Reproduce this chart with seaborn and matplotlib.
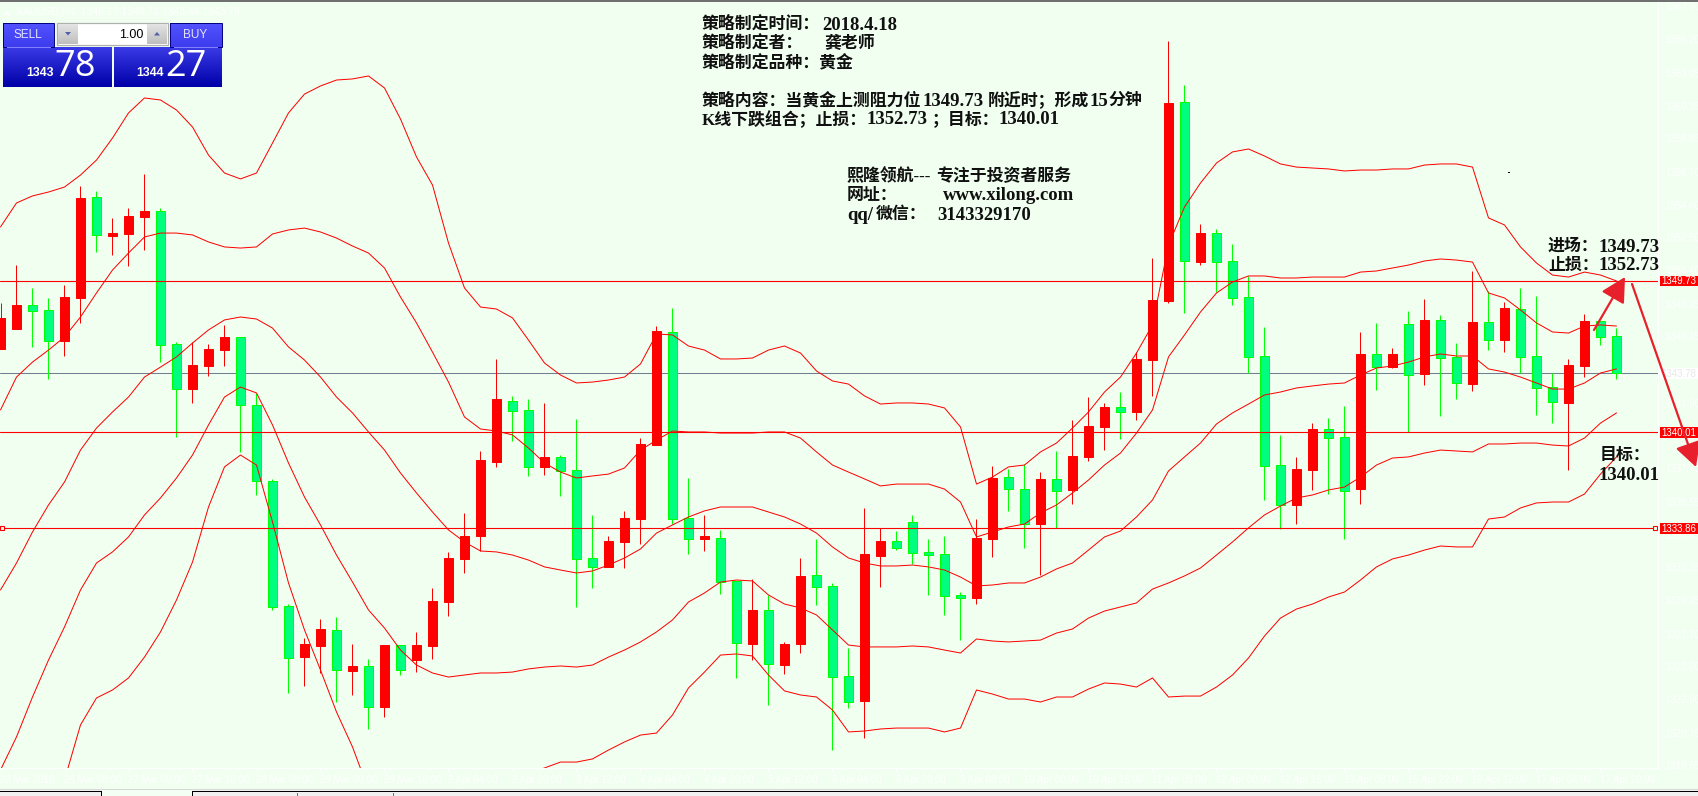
import matplotlib
matplotlib.use('Agg')
import matplotlib.pyplot as plt
from matplotlib.patches import Rectangle
import numpy as np
import seaborn as sns

# XAUUSD H4 candles, one value per bar
opens = [1345.35, 1346.63, 1348.17, 1347.85, 1345.86, 1348.62, 1355.09, 1352.59, 1352.72, 1353.81,
         1354.19, 1345.67, 1342.78, 1344.26, 1345.28, 1346.12, 1341.76, 1336.89, 1328.88, 1325.60,
         1326.31, 1327.34, 1324.71, 1325.03, 1322.40, 1326.37, 1325.41, 1326.31, 1329.13, 1331.89,
         1333.36, 1338.11, 1342.02, 1341.44, 1337.79, 1338.43, 1337.59, 1331.95, 1331.38, 1332.98,
         1334.45, 1339.19, 1346.44, 1334.52, 1333.17, 1333.23, 1330.48, 1326.44, 1328.62, 1325.09,
         1326.44, 1330.86, 1330.16, 1324.38, 1322.79, 1332.08, 1333.04, 1334.26, 1332.34, 1332.21,
         1329.58, 1329.39, 1333.17, 1337.14, 1336.37, 1334.13, 1337.02, 1336.30, 1338.43, 1340.35,
         1341.63, 1341.31, 1344.64, 1348.43, 1361.18, 1350.92, 1352.78, 1350.99, 1348.68, 1344.90,
         1337.91, 1335.35, 1337.59, 1340.22, 1339.71, 1336.37, 1345.03, 1344.19, 1346.95, 1343.74,
         1347.21, 1344.84, 1343.10, 1347.08, 1345.92, 1347.91, 1344.90, 1342.91, 1341.89, 1344.26,
         1347.14, 1346.19]
highs = [1348.30, 1350.73, 1349.26, 1348.62, 1349.45, 1355.80, 1355.48, 1353.75, 1354.39, 1356.57,
         1354.39, 1345.80, 1345.80, 1345.67, 1346.89, 1346.12, 1342.53, 1337.02, 1329.00, 1326.82,
         1328.04, 1328.17, 1326.44, 1325.48, 1326.37, 1326.37, 1327.21, 1330.03, 1332.34, 1334.84,
         1338.81, 1344.71, 1342.34, 1342.14, 1341.89, 1338.55, 1340.86, 1334.71, 1333.36, 1334.97,
         1339.64, 1346.82, 1347.98, 1337.08, 1334.71, 1333.75, 1330.48, 1330.60, 1329.58, 1326.56,
         1331.95, 1333.17, 1330.35, 1326.18, 1335.16, 1333.88, 1333.68, 1334.71, 1333.17, 1333.36,
         1329.77, 1334.45, 1337.85, 1337.66, 1337.98, 1337.46, 1338.81, 1340.80, 1342.27, 1341.89,
         1342.59, 1345.15, 1351.18, 1365.09, 1362.27, 1353.36, 1353.04, 1352.08, 1350.03, 1346.76,
         1339.84, 1338.43, 1340.60, 1340.92, 1341.69, 1346.44, 1347.02, 1345.41, 1347.78, 1348.55,
         1347.53, 1345.73, 1350.35, 1349.06, 1348.36, 1349.26, 1348.75, 1343.81, 1344.71, 1347.59,
         1347.14, 1346.71]
lows = [1345.35, 1346.63, 1345.48, 1343.42, 1344.90, 1347.02, 1351.57, 1351.37, 1350.67, 1351.69,
        1344.51, 1339.71, 1341.89, 1343.62, 1344.26, 1338.75, 1335.99, 1328.62, 1323.30, 1323.74,
        1324.58, 1322.72, 1323.17, 1321.00, 1321.76, 1324.45, 1324.64, 1325.48, 1328.23, 1330.99,
        1332.40, 1337.79, 1339.45, 1337.21, 1337.28, 1335.93, 1328.81, 1330.03, 1331.38, 1331.31,
        1332.85, 1339.19, 1334.13, 1332.21, 1332.40, 1329.64, 1324.26, 1325.41, 1322.53, 1324.51,
        1325.86, 1328.94, 1319.64, 1322.34, 1320.42, 1330.09, 1332.46, 1331.57, 1329.58, 1328.30,
        1326.69, 1329.00, 1332.02, 1334.97, 1332.59, 1330.86, 1333.88, 1335.41, 1338.17, 1338.87,
        1339.58, 1340.80, 1342.34, 1348.30, 1347.66, 1350.73, 1349.00, 1348.17, 1343.81, 1335.67,
        1333.81, 1334.13, 1336.30, 1336.05, 1333.17, 1335.41, 1342.72, 1344.13, 1340.03, 1343.04,
        1341.05, 1342.14, 1342.65, 1345.28, 1345.15, 1343.81, 1341.12, 1340.60, 1337.59, 1343.55,
        1345.60, 1343.44]
closes = [1347.34, 1348.17, 1347.78, 1345.86, 1348.68, 1355.03, 1352.66, 1352.78, 1353.87, 1354.19,
          1345.60, 1342.78, 1344.32, 1345.35, 1346.12, 1341.76, 1336.89, 1328.81, 1325.54, 1326.44,
          1327.40, 1324.77, 1325.03, 1322.40, 1326.37, 1324.77, 1326.37, 1329.19, 1331.95, 1333.36,
          1338.23, 1342.14, 1341.37, 1337.79, 1338.43, 1337.53, 1331.89, 1331.38, 1333.04, 1334.52,
          1339.26, 1346.50, 1334.45, 1333.17, 1333.36, 1330.41, 1326.50, 1328.62, 1325.16, 1326.44,
          1330.80, 1330.09, 1324.32, 1322.72, 1332.21, 1333.04, 1332.59, 1332.27, 1332.14, 1329.52,
          1329.39, 1333.23, 1337.08, 1336.37, 1334.13, 1337.02, 1336.24, 1338.49, 1340.41, 1341.63,
          1341.31, 1344.71, 1348.49, 1361.12, 1350.99, 1352.78, 1350.92, 1348.62, 1344.84, 1337.85,
          1335.35, 1337.66, 1340.22, 1339.64, 1336.24, 1345.03, 1344.19, 1345.03, 1343.68, 1347.21,
          1344.77, 1343.17, 1347.08, 1345.92, 1347.98, 1344.84, 1342.85, 1341.95, 1344.32, 1347.14,
          1346.12, 1343.78]

# the five band lines, top to bottom
band_a = [1353.17, 1354.71, 1355.16, 1355.41, 1355.73, 1356.50, 1357.46, 1358.87, 1360.48, 1361.44,
          1361.31, 1360.67, 1359.58, 1357.78, 1356.63, 1356.25, 1356.63, 1358.55, 1360.48, 1361.69,
          1362.21, 1362.59, 1362.66, 1362.85, 1362.08, 1360.09, 1357.66, 1355.86, 1352.14, 1349.26,
          1348.04, 1347.91, 1347.34, 1345.92, 1344.45, 1343.68, 1343.17, 1343.23, 1343.36, 1343.55,
          1344.39, 1346.31, 1346.25, 1345.54, 1345.28, 1344.71, 1344.71, 1344.77, 1345.28, 1345.54,
          1345.09, 1343.94, 1343.30, 1343.10, 1342.34, 1341.82, 1341.89, 1341.89, 1341.82, 1341.57,
          1340.35, 1336.69, 1337.14, 1337.79, 1337.91, 1338.75, 1339.32, 1340.28, 1341.31, 1342.59,
          1343.55, 1345.09, 1346.89, 1352.01, 1354.45, 1355.99, 1357.27, 1357.98, 1358.17, 1357.72,
          1357.21, 1357.01, 1356.95, 1356.89, 1356.76, 1356.82, 1356.82, 1356.89, 1356.89, 1357.14,
          1357.21, 1357.21, 1357.01, 1353.75, 1353.30, 1351.89, 1350.86, 1350.09, 1349.96, 1350.28,
          1350.09, 1349.71]
band_b = [1341.44, 1343.55, 1344.51, 1345.28, 1346.12, 1347.40, 1348.94, 1350.41, 1351.50, 1352.53,
          1352.78, 1352.78, 1352.66, 1352.21, 1351.89, 1351.82, 1351.89, 1352.72, 1352.98, 1353.10,
          1352.85, 1352.46, 1351.95, 1351.50, 1350.54, 1348.68, 1347.02, 1345.15, 1343.23, 1340.99,
          1340.22, 1340.09, 1339.84, 1339.00, 1338.04, 1337.46, 1337.08, 1337.21, 1337.33, 1337.72,
          1338.87, 1339.51, 1340.09, 1340.03, 1340.03, 1339.96, 1339.96, 1339.96, 1340.03, 1340.03,
          1339.64, 1338.75, 1337.91, 1337.46, 1337.02, 1336.57, 1336.69, 1336.69, 1336.69, 1336.37,
          1335.54, 1333.30, 1333.62, 1333.94, 1334.13, 1334.84, 1335.35, 1336.12, 1336.95, 1337.91,
          1338.68, 1339.96, 1341.44, 1344.84, 1346.25, 1347.72, 1348.94, 1349.64, 1350.03, 1350.03,
          1349.90, 1349.90, 1349.96, 1349.96, 1349.96, 1350.28, 1350.35, 1350.54, 1350.73, 1350.99,
          1351.12, 1351.05, 1350.92, 1348.94, 1348.62, 1347.85, 1347.02, 1346.44, 1346.37, 1346.82,
          1346.89, 1346.82]
band_c = [1329.90, 1331.63, 1333.62, 1335.35, 1336.82, 1338.87, 1340.28, 1341.31, 1342.27, 1343.55,
          1344.19, 1344.84, 1345.73, 1346.57, 1347.21, 1347.40, 1347.27, 1346.69, 1345.48, 1344.64,
          1343.55, 1342.27, 1341.25, 1340.03, 1338.87, 1337.40, 1336.12, 1334.90, 1333.75, 1332.98,
          1332.40, 1332.34, 1332.14, 1331.82, 1331.38, 1331.18, 1330.99, 1331.12, 1331.50, 1331.95,
          1332.53, 1333.55, 1334.07, 1334.58, 1334.97, 1335.22, 1335.22, 1335.22, 1334.90, 1334.58,
          1334.13, 1333.55, 1332.66, 1331.95, 1331.63, 1331.44, 1331.44, 1331.50, 1331.38, 1331.18,
          1330.73, 1330.16, 1330.22, 1330.35, 1330.35, 1330.73, 1331.25, 1331.63, 1332.46, 1333.30,
          1333.68, 1334.58, 1335.67, 1337.53, 1338.43, 1339.32, 1340.54, 1341.25, 1341.82, 1342.40,
          1342.59, 1342.85, 1342.98, 1343.10, 1343.17, 1343.68, 1344.13, 1344.26, 1344.51, 1344.84,
          1345.03, 1344.90, 1344.90, 1344.07, 1343.87, 1343.55, 1343.17, 1342.78, 1342.78, 1343.17,
          1343.81, 1344.07]
band_d = [1318.36, 1320.48, 1323.04, 1325.41, 1327.53, 1329.90, 1331.63, 1332.34, 1333.30, 1334.71,
          1335.80, 1337.08, 1338.55, 1340.48, 1342.27, 1342.91, 1342.53, 1340.48, 1338.04, 1335.86,
          1334.07, 1332.14, 1330.41, 1328.62, 1327.46, 1326.05, 1325.09, 1324.58, 1324.32, 1324.45,
          1324.58, 1324.58, 1324.64, 1324.84, 1324.96, 1325.03, 1324.96, 1325.09, 1325.60, 1326.05,
          1326.57, 1327.21, 1327.98, 1329.13, 1329.71, 1330.41, 1330.54, 1330.48, 1329.58, 1329.00,
          1328.75, 1328.30, 1327.34, 1326.37, 1326.25, 1326.25, 1326.25, 1326.31, 1326.25, 1326.05,
          1325.86, 1326.76, 1326.63, 1326.57, 1326.63, 1326.69, 1327.14, 1327.40, 1328.10, 1328.55,
          1328.81, 1329.07, 1329.96, 1330.35, 1330.80, 1331.31, 1332.14, 1332.98, 1333.88, 1334.71,
          1335.28, 1335.80, 1335.99, 1336.31, 1336.50, 1337.14, 1337.91, 1338.36, 1338.43, 1338.68,
          1338.87, 1338.81, 1338.75, 1339.26, 1339.26, 1339.32, 1339.32, 1339.19, 1339.13, 1339.64,
          1340.60, 1341.25]
# lowest line runs off the chart for a while, nan where it cannot be seen
nan = float('nan')
band_e = [nan, nan, nan, nan, 1317.72, 1321.25, 1322.98, 1323.49, 1324.26, 1325.60,
          1327.21, 1329.26, 1331.69, 1335.22, 1337.79, 1338.55, 1337.91, 1334.26, 1330.35, 1327.34,
          1324.77, 1322.08, 1319.84, 1317.08, nan, nan, nan, nan, nan, nan,
          nan, nan, nan, 1318.17, 1318.49, 1318.87, 1318.87, 1319.07, 1319.64, 1320.16,
          1320.60, 1320.73, 1321.89, 1323.62, 1324.64, 1325.73, 1325.80, 1325.67, 1324.45, 1323.43,
          1323.17, 1323.04, 1322.21, 1320.80, 1320.86, 1320.99, 1321.05, 1321.05, 1321.05, 1320.80,
          1321.05, 1323.49, 1323.23, 1322.91, 1322.91, 1322.72, 1323.04, 1323.04, 1323.55, 1323.94,
          1323.87, 1323.68, 1324.26, 1323.04, 1323.10, 1323.10, 1323.68, 1324.45, 1325.54, 1326.95,
          1328.10, 1328.68, 1329.00, 1329.45, 1329.77, 1330.54, 1331.38, 1331.89, 1332.14, 1332.46,
          1332.72, 1332.66, 1332.66, 1334.45, 1334.58, 1335.16, 1335.48, 1335.54, 1335.54, 1336.05,
          1337.33, 1338.43]

levels = [1349.73, 1340.01, 1333.86]
bid_price = 1343.78

x_tick_bars = [0, 4, 8, 12, 16, 20, 24, 28, 32, 36, 40, 44, 48, 52, 56, 60, 64, 68, 72, 76, 80, 84, 88, 92, 96, 100]
x_tick_labels = ['23 Mar 2018', '26 Mar 08:00', '27 Mar 00:00', '27 Mar 16:00', '28 Mar 08:00', '29 Mar 00:00',
                 '29 Mar 16:00', '2 Apr 04:00', '2 Apr 20:00', '3 Apr 12:00', '4 Apr 04:00', '4 Apr 20:00',
                 '5 Apr 12:00', '6 Apr 04:00', '6 Apr 20:00', '9 Apr 08:00', '10 Apr 00:00', '10 Apr 16:00',
                 '11 Apr 08:00', '12 Apr 00:00', '12 Apr 16:00', '13 Apr 08:00', '15 Apr 22:00', '16 Apr 12:00',
                 '17 Apr 04:00', '17 Apr 20:00']
y_ticks = [1365.20, 1363.05, 1360.95, 1358.85, 1356.70, 1354.60, 1352.50, 1350.40, 1348.25, 1346.15,
           1344.05, 1341.90, 1339.80, 1337.70, 1335.55, 1333.45, 1331.35, 1329.25, 1327.10, 1325.00,
           1322.90, 1320.75, 1318.65]
# these two sit fully under the bid and 1340.01 labels
y_hidden = [1344.05, 1339.80]

BG = '#F0FFF0'
RED = '#FF0000'
GREEN_BODY = '#00FF7F'
GREEN_WICK = '#00FF00'
ARROW = '#E8202C'
W, H = 1698, 796
PLOT_W, PLOT_H = 1658, 768

sns.set_theme(style='white', rc={'axes.facecolor': BG, 'figure.facecolor': BG})
plt.rcParams['font.family'] = ['Liberation Sans', 'Noto Sans CJK SC', 'DejaVu Sans']
SERIF = ['Liberation Serif', 'Noto Sans CJK SC']

fig = plt.figure(figsize=(W / 100, H / 100), dpi=100)
ax = fig.add_axes([0, (H - PLOT_H) / H, PLOT_W / W, PLOT_H / H])

bars = np.arange(len(opens))
o, hi, lo, c = map(np.array, (opens, highs, lows, closes))
up = c >= o

ax.axhline(bid_price, color='#708090', lw=0.75, zorder=1)

# candles, up bars are red on this chart
ax.vlines(bars[up], lo[up], hi[up], color=RED, lw=0.72, zorder=2)
ax.vlines(bars[~up], lo[~up], hi[~up], color=GREEN_WICK, lw=0.72, zorder=2)
ax.bar(bars[up], (c - o)[up], bottom=o[up], width=0.62, color=RED, edgecolor=RED, lw=0.72, zorder=3)
ax.bar(bars[~up], (o - c)[~up], bottom=c[~up], width=0.62, color=GREEN_BODY, edgecolor=GREEN_WICK, lw=0.72, zorder=3)

for band in (band_a, band_b, band_c, band_d, band_e):
    sns.lineplot(x=bars, y=band, ax=ax, color=RED, lw=0.72, estimator=None, sort=False, zorder=4)

for level in levels:
    ax.axhline(level, color=RED, lw=0.8, zorder=5)

ax.set_xlim(-0.5 / 16, (PLOT_W - 0.5) / 16)
ax.set_ylim(1367.72 - PLOT_H / 15.6, 1367.72)
ax.set_xlabel('')
ax.set_ylabel('')
ax.yaxis.tick_right()
ax.set_yticks(y_ticks, labels=['' if t in y_hidden else f'{t:.2f}' for t in y_ticks])
ax.set_xticks(x_tick_bars, labels=x_tick_labels)
for lab in ax.get_xticklabels():
    lab.set_ha('left')
ax.tick_params(axis='both', colors='white', labelcolor='white', labelsize=7, length=3, width=0.72, pad=2,
               bottom=True, right=True)
sns.despine(ax=ax, left=True, top=True, right=False, bottom=False)
ax.spines['right'].set_color('white')
ax.spines['bottom'].set_color('white')
ax.spines['right'].set_linewidth(0.72)
ax.spines['bottom'].set_linewidth(0.72)

# everything around the chart sits on a pixel-sized overlay
ov = fig.add_axes([0, 0, 1, 1], zorder=10)
ov.patch.set_alpha(0)
ov.axis('off')


def box(x0, y0, x1, y1, **kw):
    ov.add_patch(Rectangle((x0, y0), x1 - x0, y1 - y0, **kw))


def grad(x0, y0, x1, y1, top, bottom, zorder=2):
    cols = np.array([matplotlib.colors.to_rgb(top), matplotlib.colors.to_rgb(bottom)])
    steps = np.linspace(0, 1, 32)[:, None]
    img = (cols[0] * (1 - steps) + cols[1] * steps)[:, None, :]
    ov.imshow(img, extent=(x0, x1, y1, y0), aspect='auto', interpolation='bilinear', zorder=zorder)


# window edges
box(0, 0, W, 1.5, color='#707070', lw=0)
box(0, 789, W, 796, color='#F0F0F0', lw=0)
box(0, 788.5, W, 789.5, color='#D8D8D8', lw=0)
box(102, 790, 193, 796, color='#F4FFF4', lw=0)
box(0, 790.5, 102, 791.5, color='black', lw=0)
box(193, 790.5, W, 791.5, color='black', lw=0)
box(101.5, 791, 102.5, 796, color='black', lw=0)
box(192.5, 791, 193.5, 796, color='black', lw=0)
box(297, 793, 298, 796, color='#707070', lw=0)
box(393, 793, 394, 796, color='#707070', lw=0)

# header text, white on the pale ground
ov.fill([4, 7, 10], [15, 10, 15], color='white', lw=0)
ov.text(16, 12, 'XAUUSD,H4  1346.19 1346.71 1343.44 1343.78', color='white', fontsize=7.5, va='center')
ov.text(1665, 7, '1367.90', color='white', fontsize=7, va='center')

# one click trading panel
grad(3, 23, 54, 47, '#5252FF', '#3D3DEE')
grad(3, 47, 112, 87, '#3A3AE6', '#0000A8')
grad(170, 23, 222, 47, '#5252FF', '#3D3DEE')
grad(114, 47, 222, 87, '#3A3AE6', '#0000A8')
box(3, 23, 54, 47, fill=False, ec='#000080', lw=0.7, zorder=3)
box(170, 23, 222, 47, fill=False, ec='#000080', lw=0.7, zorder=3)
box(7, 46.5, 51, 47.5, color='#8080FF', lw=0, zorder=3)
box(174, 46.5, 218, 47.5, color='#8080FF', lw=0, zorder=3)
box(57, 23, 168, 45, fc='white', ec='#B0B0B0', lw=0.9, zorder=3)
grad(58, 24, 78, 44, '#E4E4E4', '#BEBEBE', zorder=4)
grad(147, 24, 167, 44, '#E4E4E4', '#BEBEBE', zorder=4)
ov.fill([65, 71, 68], [32, 32, 35.5], color='#5060A8', lw=0, zorder=5)
ov.fill([154, 160, 157], [35.5, 35.5, 32], color='#5060A8', lw=0, zorder=5)
ov.text(143, 34.5, '1.00', color='black', fontsize=9, ha='right', va='center', zorder=5)
ov.text(28, 34.5, 'SELL', color='#E4E4FF', fontsize=8.5, ha='center', va='center', zorder=5)
ov.text(195, 34.5, 'BUY', color='#E4E4FF', fontsize=8.5, ha='center', va='center', zorder=5)
ov.text(54, 73, '1343', color='white', fontsize=8.8, fontweight='bold', ha='right', va='center', zorder=5)
ov.text(164, 73, '1344', color='white', fontsize=8.8, fontweight='bold', ha='right', va='center', zorder=5)
ov.text(75, 67.5, '78', color='white', fontsize=26, ha='center', va='center', zorder=5, family='Open Sans')
ov.text(186, 67.5, '27', color='white', fontsize=26, ha='center', va='center', zorder=5, family='Open Sans')

# strategy notes, chinese runs and latin runs placed apart because the latin runs wider
notes_cn = [
    (702, 23, '策略制定时间：'),
    (702, 42, '策略制定者：'),
    (824, 42, '龚老师'),
    (702, 61, '策略制定品种：黄金'),
    (702, 99, '策略内容：当黄金上测阻力位'),
    (988, 99, '附近时；形成'),
    (1108, 99, '分钟'),
    (702, 118, 'K线下跌组合；止损：'),
    (932, 118, '；目标：'),
    (847, 175, '熙隆领航---'),
    (936, 175, '专注于投资者服务'),
    (847, 194, '网址：'),
    (876, 213, '微信：'),
    (1548, 245, '进场：'),
    (1548, 264, '止损：'),
    (1600, 454, '目标：'),
]
notes_latin = [
    (822, 23, '2018.4.18'),
    (923, 99, '1349.73'),
    (1090, 99, '15'),
    (867, 118, '1352.73'),
    (999, 118, '1340.01'),
    (943, 194, 'www.xilong.com'),
    (847, 213, 'qq/'),
    (937, 213, '3143329170'),
    (1599, 245, '1349.73'),
    (1599, 264, '1352.73'),
    (1599, 473, '1340.01'),
]
for x, y, s in notes_cn:
    ov.text(x, y + 2, s, color='#101010', fontsize=12.2, fontweight='bold', family=SERIF, va='center', zorder=6)
for x, y, s in notes_latin:
    ov.text(x, y + 2, s, color='#101010', fontsize=13.5, fontweight='bold', family=SERIF, va='center', zorder=6)
box(1508, 171.5, 1510.5, 172.5, color='black', lw=0)

# price labels on the right edge
for level, label in zip(levels, ['1349.73', '1340.01', '1333.86']):
    y = (1367.72 - level) * 15.6
    box(1660, y - 5, W, y + 5.5, color=RED, lw=0, zorder=3)
    ov.text(1679, y + 0.3, label, color='white', fontsize=7, ha='center', va='center', zorder=4)
y = (1367.72 - bid_price) * 15.6
box(1660, y - 5, W, y + 5.5, color='white', lw=0, zorder=3)
ov.text(1679, y + 0.3, '1343.78', color='#E8E8E8', fontsize=7, ha='center', va='center', zorder=4)
y = (1367.72 - levels[2]) * 15.6
for x in (2, 1655):
    box(x - 2, y - 2, x + 2, y + 2, fc=BG, ec=RED, lw=0.8, zorder=5)

# the two hand drawn arrows
arrow = dict(arrowstyle='-|>,head_length=0.75,head_width=0.4', color=ARROW, lw=1.6, mutation_scale=20,
             shrinkA=0, shrinkB=0)
ov.annotate('', xy=(1625, 277), xytext=(1594, 330), arrowprops=arrow, zorder=7)
ov.annotate('', xy=(1696, 467), xytext=(1632, 284), arrowprops=arrow, zorder=7, annotation_clip=False)

ov.set_xlim(0, W)
ov.set_ylim(H, 0)

fig.savefig('out.png', dpi=100, facecolor=BG)
